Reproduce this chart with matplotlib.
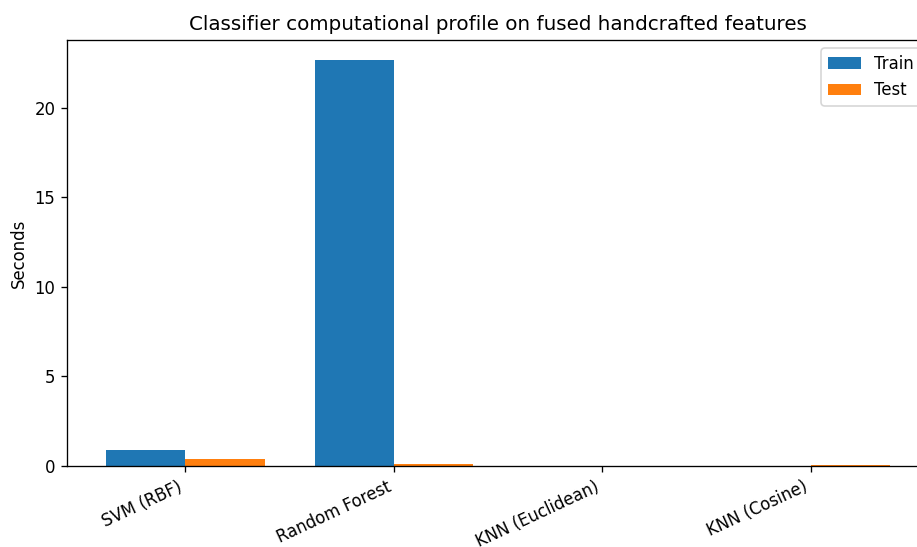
import numpy as np
import matplotlib
matplotlib.use("Agg")
import matplotlib.pyplot as plt

# classifiers and timings (seconds)
classifiers = ["SVM (RBF)", "Random Forest", "KNN (Euclidean)", "KNN (Cosine)"]
train_times = [0.92, 22.65, 0.004, 0.003]
test_times = [0.39, 0.12, 0.01, 0.07]

x = np.arange(len(classifiers))
width = 0.38

# the reference looks like a 100 dpi figure shown about 1.19x larger
dpi = 119
fig = plt.figure(figsize=(917 / dpi, 547 / dpi), dpi=dpi)
# axes runs slightly past the right edge, as in the cropped reference
ax = fig.add_axes([67 / 917, 81 / 547, 862 / 917, 426 / 547])
ax.bar(x - width / 2, train_times, width, label="Train")
ax.bar(x + width / 2, test_times, width, label="Test")
ax.set_xticks(x)
ax.set_xticklabels(classifiers, rotation=25, ha="right")
ax.set_ylabel("Seconds")
ax.set_title("Classifier computational profile on fused handcrafted features")
ax.legend(loc="upper right")

fig.savefig("out.png", dpi=dpi)
